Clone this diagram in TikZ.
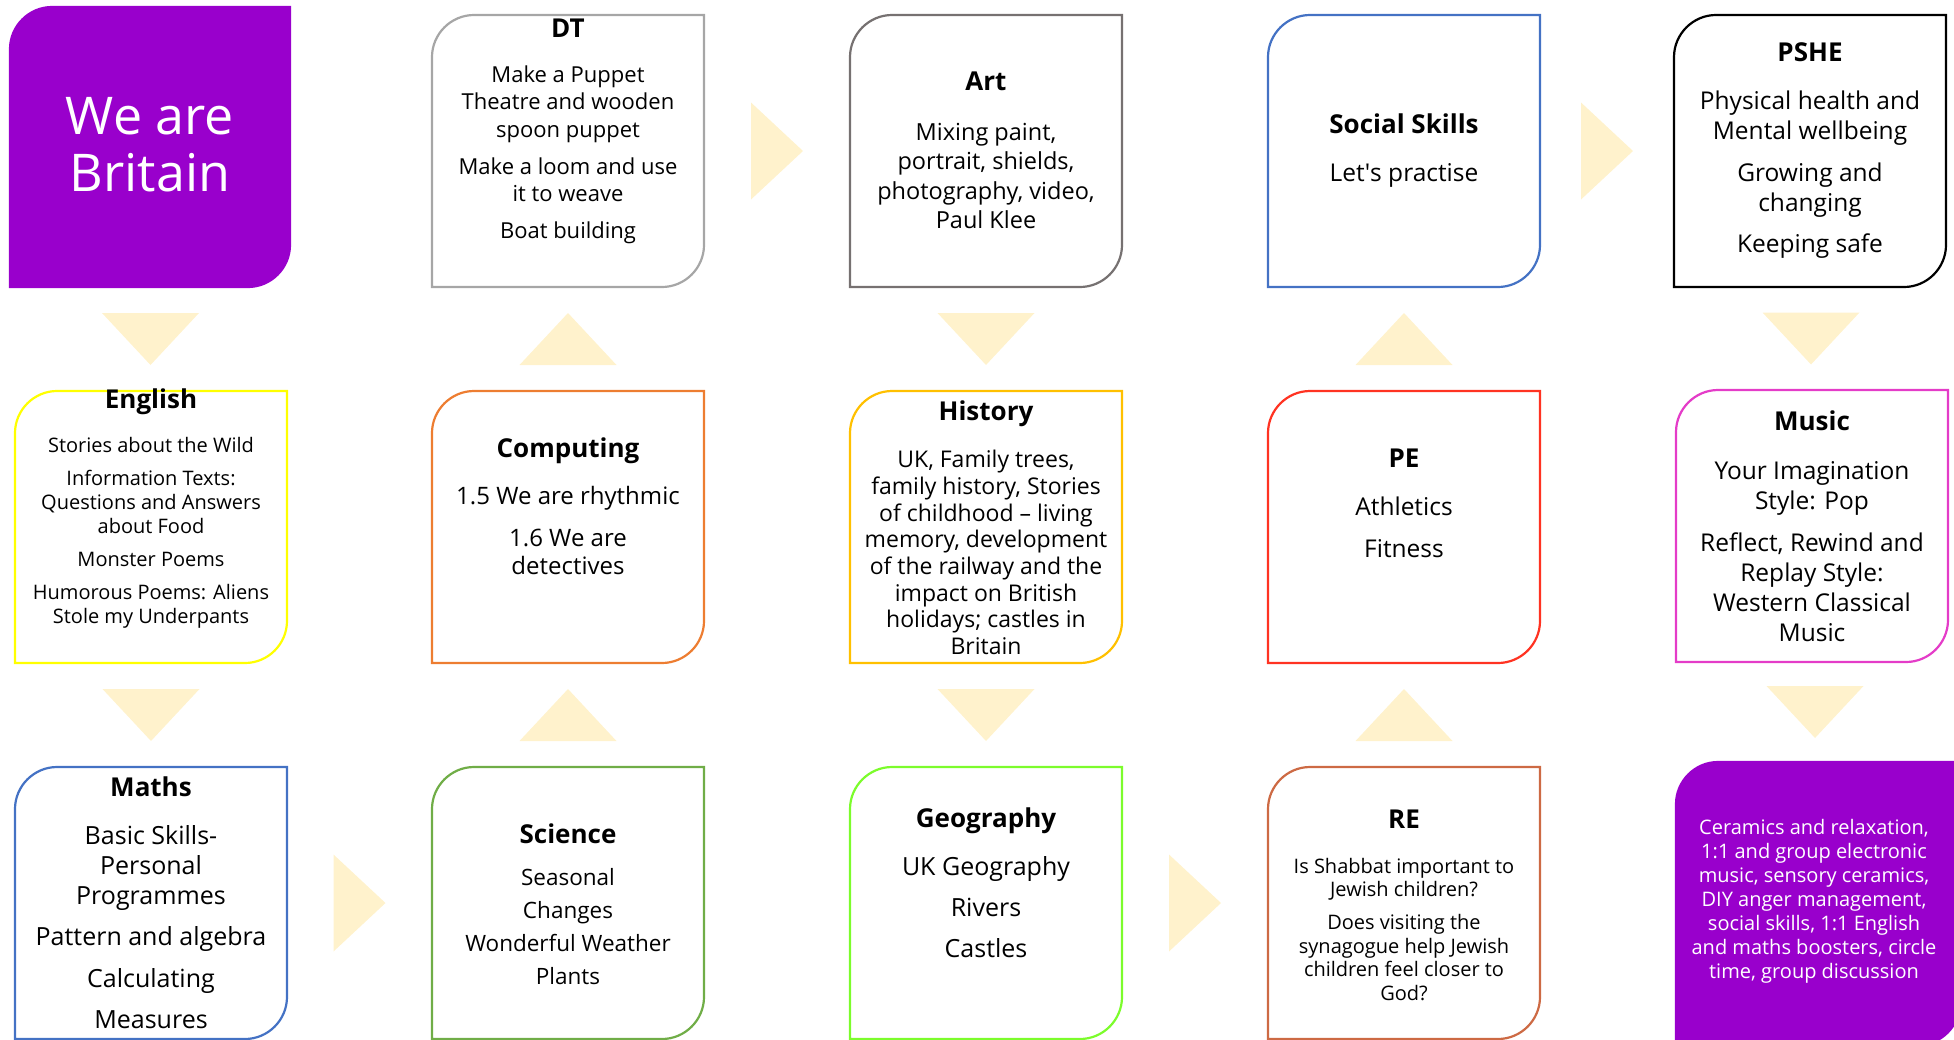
\documentclass[tikz,border=0pt]{standalone}
\usepackage{fontspec}
\setmainfont{Open Sans}
\usetikzlibrary{calc}

\definecolor{britpurple}{HTML}{9900CC}
\definecolor{arrowfill}{HTML}{FFF2CC}
\definecolor{dtgray}{HTML}{A6A6A6}
\definecolor{artgray}{HTML}{767171}
\definecolor{socialblue}{HTML}{4472C4}
\definecolor{engyellow}{HTML}{FFFF00}
\definecolor{comporange}{HTML}{ED7D31}
\definecolor{histgold}{HTML}{FFC000}
\definecolor{pered}{HTML}{FF3322}
\definecolor{musicpink}{HTML}{E43CC8}
\definecolor{mathsblue}{HTML}{4472C4}
\definecolor{scigreen}{HTML}{70AD47}
\definecolor{geogreen}{HTML}{7CFC2C}
\definecolor{rebrown}{HTML}{CD6A44}

\newcommand{\subjtitle}[1]{{\fontsize{26}{30}\selectfont\bfseries #1}}
% box with rounded top-left and bottom-right corners
\newcommand{\subjframe}[2]{%
  \draw[boxline,#2] (#1.north east) -- ($(#1.south east)+(0,-42)$)
    .. controls ($(#1.south east)+(0,-19)$) and ($(#1.south east)+(-19,0)$) .. ($(#1.south east)+(-42,0)$)
    -- (#1.south west) -- ($(#1.north west)+(0,42)$)
    .. controls ($(#1.north west)+(0,19)$) and ($(#1.north west)+(19,0)$) .. ($(#1.north west)+(42,0)$)
    -- cycle;}

\tikzset{
  subjbox/.style={minimum width=272pt, minimum height=272pt, inner sep=0pt, outer sep=0pt},
  boxline/.style={line width=2.2pt},
  txt/.style={align=center, inner sep=0pt},
  trifill/.style={fill=arrowfill},
  tridown/.pic={\fill[trifill] (-48.5,-26) -- (48.5,-26) -- (0,26) -- cycle;},
  triup/.pic={\fill[trifill] (-48.5,26) -- (48.5,26) -- (0,-26) -- cycle;},
  triright/.pic={\fill[trifill] (-26,-48.5) -- (-26,48.5) -- (26,0) -- cycle;},
}

\begin{document}
\begin{tikzpicture}[x=1pt,y=-1pt]
\useasboundingbox (0,0) rectangle (1954,1039);
\clip (0,0) rectangle (1954,1039);

% boxes
\node[subjbox, minimum width=280pt, minimum height=280pt] (brit) at (150,147) {};
\node[subjbox] (dt) at (568,151) {};
\node[subjbox] (art) at (986,151) {};
\node[subjbox] (social) at (1404,151) {};
\node[subjbox] (pshe) at (1810,151) {};
\node[subjbox] (eng) at (151,527) {};
\node[subjbox] (comp) at (568,527) {};
\node[subjbox] (hist) at (986,527) {};
\node[subjbox] (pe) at (1404,527) {};
\node[subjbox] (music) at (1812,526) {};
\node[subjbox] (maths) at (151,903) {};
\node[subjbox] (sci) at (568,903) {};
\node[subjbox] (geo) at (986,903) {};
\node[subjbox] (re) at (1404,903) {};
\node[subjbox, minimum width=284pt, minimum height=283pt] (extra) at (1818,903.5) {};

\subjframe{brit}{draw=britpurple, fill=britpurple}
\subjframe{dt}{draw=dtgray}
\subjframe{art}{draw=artgray}
\subjframe{social}{draw=socialblue}
\subjframe{pshe}{draw=black}
\subjframe{eng}{draw=engyellow}
\subjframe{comp}{draw=comporange}
\subjframe{hist}{draw=histgold}
\subjframe{pe}{draw=pered}
\subjframe{music}{draw=musicpink}
\subjframe{maths}{draw=mathsblue}
\subjframe{sci}{draw=scigreen}
\subjframe{geo}{draw=geogreen}
\subjframe{re}{draw=rebrown}
\subjframe{extra}{draw=britpurple, fill=britpurple}

% arrows
\pic at ($(brit.south)!0.5!(eng.north)$) {tridown};
\pic at ($(eng.south)!0.5!(maths.north)$) {tridown};
\pic at ($(maths.east)!0.5!(sci.west)$) {triright};
\pic at ($(sci.north)!0.5!(comp.south)$) {triup};
\pic at ($(comp.north)!0.5!(dt.south)$) {triup};
\pic at ($(dt.east)!0.5!(art.west)$) {triright};
\pic at ($(art.south)!0.5!(hist.north)$) {tridown};
\pic at ($(hist.south)!0.5!(geo.north)$) {tridown};
\pic at ($(geo.east)!0.5!(re.west)$) {triright};
\pic at ($(re.north)!0.5!(pe.south)$) {triup};
\pic at ($(pe.north)!0.5!(social.south)$) {triup};
\pic at ($(social.east)!0.5!(pshe.west)$) {triright};
\pic at ($(pshe.south)!0.5!(music.north)$) {tridown};
\pic at ($(music.south)!0.5!(extra.north)$) {tridown};

% texts
\node[txt, text=white, font=\fontsize{52}{57}\selectfont] (brit-t) at (150,145) {We are\\Britain};
\node[txt, font=\fontsize{22}{27.5}\selectfont] (dt-t) at (568,131.5)
  {\subjtitle{DT}\\[17.5pt] Make a Puppet\\Theatre and wooden\\spoon puppet\\[9.5pt] Make a loom and use\\it to weave\\[9.5pt] Boat building};
\node[txt, font=\fontsize{23.5}{29.5}\selectfont] (art-t) at (986,150.5)
  {\subjtitle{Art}\\[20.5pt] Mixing paint,\\portrait, shields,\\photography, video,\\Paul Klee};
\node[txt, font=\fontsize{24.5}{30}\selectfont] (social-t) at (1404,150.5)
  {\subjtitle{Social Skills}\\[18pt] Let\textquotesingle s practise};
\node[txt, font=\fontsize{24.5}{30}\selectfont] (pshe-t) at (1810,151)
  {\subjtitle{PSHE}\\[18pt] Physical health and\\Mental wellbeing\\[11.5pt] Growing and\\changing\\[11.5pt] Keeping safe};
\node[txt, font=\fontsize{20}{24}\selectfont] (eng-t) at (151,509)
  {\subjtitle{English}\\[20pt] Stories about the Wild\\[9pt] Information Texts:\\Questions and Answers\\about Food\\[9pt] Monster Poems\\[9pt] Humorous Poems: Aliens\\Stole my Underpants};
\node[txt, font=\fontsize{24}{28.5}\selectfont] (comp-t) at (568,506)
  {\subjtitle{Computing}\\[18.5pt] 1.5 We are rhythmic\\[13.5pt] 1.6 We are\\detectives};
\node[txt, font=\fontsize{23}{26.7}\selectfont] (hist-t) at (986,528)
  {\subjtitle{History}\\[20pt] UK, Family trees,\\family history, Stories\\of childhood -- living\\memory, development\\of the railway and the\\impact on British\\holidays; castles in\\Britain};
\node[txt, font=\fontsize{24.5}{30}\selectfont] (pe-t) at (1404,503.5)
  {\subjtitle{PE}\\[18pt] Athletics\\[12pt] Fitness};
\node[txt, font=\fontsize{24.5}{30}\selectfont] (music-t) at (1812,526)
  {\subjtitle{Music}\\[19pt] Your Imagination\\Style: Pop\\[12pt] Reflect, Rewind and\\Replay Style:\\Western Classical\\Music};
\node[txt, font=\fontsize{25}{30}\selectfont] (maths-t) at (151,902.5)
  {\subjtitle{Maths}\\[18pt] Basic Skills-\\Personal\\Programmes\\[11.5pt] Pattern and algebra\\[11.5pt] Calculating\\[11.5pt] Measures};
\node[txt, font=\fontsize{22.5}{33}\selectfont] (sci-t) at (568,904)
  {\subjtitle{Science}\\[9pt] Seasonal\\Changes\\Wonderful Weather\\Plants};
\node[txt, font=\fontsize{25}{41}\selectfont] (geo-t) at (986,883)
  {\subjtitle{Geography}\\[7pt] UK Geography\\Rivers\\Castles};
\node[txt, font=\fontsize{20}{23.5}\selectfont] (re-t) at (1404,905)
  {\subjtitle{RE}\\[21.5pt] Is Shabbat important to\\Jewish children?\\[9.5pt] Does visiting the\\synagogue help Jewish\\children feel closer to\\God?};
\node[txt, text=white, font=\fontsize{20}{24}\selectfont] (extra-t) at (1814,901)
  {Ceramics and relaxation,\\1:1 and group electronic\\music, sensory ceramics,\\DIY anger management,\\social skills, 1:1 English\\and maths boosters, circle\\time, group discussion};
\end{tikzpicture}
\end{document}
